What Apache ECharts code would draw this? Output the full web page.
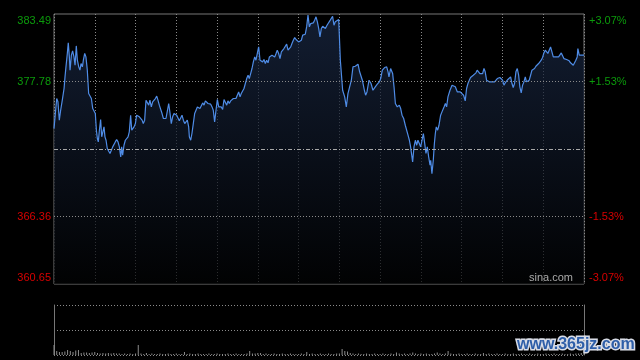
<!DOCTYPE html>
<html>
<head>
<meta charset="utf-8">
<script src="https://cdn.jsdelivr.net/npm/echarts@6/dist/echarts.min.js"></script>
<style>html,body{margin:0;padding:0;background:#000;}#c{width:640px;height:360px;}</style>
</head>
<body>
<div id="c"></div>
<script>
// ---- data ----
const prevClose = 372.07;
const priceTicks = [360.65, 366.36, 377.78, 383.49];
const priceMin = 360.65;
const priceMax = 383.49;
const gridPrices = [366.36, 377.78];
// [minutes since open, price]
const intraday = [
[0,373.80],[2.0,376.34],[2.9,376.06],[3.9,374.51],[4.9,375.35],[6.1,376.20],[7.4,377.19],[8.1,378.17],[8.8,379.02],[9.8,380.15],[10.5,381.05],[11.3,379.86],[11.8,378.74],[12.8,380.01],[13.7,380.37],[14.7,379.86],[15.5,379.16],[16.4,380.79],[17.2,379.58],[18.2,379.02],[19.1,378.74],[19.9,379.30],[20.9,379.02],[21.6,379.58],[22.6,380.15],[23.5,379.86],[24.5,378.74],[25.5,376.76],[26.5,376.62],[27.5,376.34],[28.5,375.49],[29.4,375.41],[30.4,375.07],[31.2,373.66],[31.9,372.96],[32.6,372.67],[33.4,373.66],[34.3,374.56],[35.1,373.10],[35.8,372.96],[36.8,373.94],[37.5,373.10],[38.3,372.81],[39.2,372.11],[40.2,371.97],[41.2,371.69],[42.2,371.55],[43.2,372.25],[44.2,372.39],[45.1,372.67],[46.1,372.87],[47.1,372.67],[48.1,372.25],[49.1,371.40],[49.8,372.25],[50.5,371.55],[51.5,372.39],[52.5,372.81],[53.5,372.87],[54.5,373.10],[55.4,373.52],[56.4,374.93],[57.2,373.66],[57.9,373.80],[58.9,373.94],[59.9,374.22],[60.8,374.93],[61.8,374.79],[62.8,374.79],[63.8,374.73],[64.8,374.51],[65.7,374.22],[66.7,374.51],[67.7,376.20],[68.7,376.06],[69.7,375.78],[70.6,376.20],[71.6,375.63],[72.6,376.06],[73.6,376.06],[74.6,376.34],[75.6,376.54],[76.5,376.20],[77.5,375.78],[78.5,375.92],[79.5,375.07],[80.5,374.65],[81.4,374.56],[82.4,374.65],[83.4,374.51],[84.4,375.92],[85.4,375.07],[86.3,374.22],[87.3,374.79],[88.3,375.07],[89.3,375.21],[90.3,374.93],[91.3,374.79],[92.2,374.45],[93.2,374.51],[94.2,374.93],[95.2,374.51],[96.2,374.22],[97.1,374.37],[98.1,374.51],[99.1,373.94],[99.6,373.10],
[100.6,372.81],[101.5,373.38],[102.5,374.22],[103.5,375.07],[104.5,375.35],[105.5,375.63],[106.4,375.49],[107.4,375.49],[108.4,375.63],[109.4,375.97],[110.4,375.78],[111.4,376.14],[112.3,376.06],[113.3,375.92],[114.3,375.97],[115.3,375.86],[116.3,375.63],[117.2,375.35],[118.2,374.37],[119.2,375.35],[120.2,376.26],[121.2,375.63],[122.1,375.49],[123.1,375.63],[124.1,375.41],[125.1,376.26],[126.1,376.14],[127.1,375.78],[128.0,376.14],[129.0,375.92],[130.0,376.14],[131.0,376.20],[132.0,376.34],[132.9,376.48],[133.9,376.34],[134.9,376.34],[135.9,376.90],[136.9,376.48],[137.8,376.76],[138.8,376.82],[139.8,377.19],[140.8,377.61],[141.8,378.03],[142.8,378.31],[143.7,378.03],[144.7,378.45],[145.7,378.88],[146.7,379.44],[147.7,379.86],[148.6,379.58],[149.6,379.72],[150.6,380.71],[151.6,379.58],[152.6,379.72],[153.5,379.44],[154.5,379.64],[155.5,379.30],[156.5,379.58],[157.5,379.36],[158.5,379.86],[159.4,379.72],[160.4,380.01],[161.4,380.15],[162.4,379.86],[163.4,380.15],[164.3,380.43],[165.3,380.15],[166.3,379.72],[167.3,380.29],[168.3,380.43],[169.2,380.57],[170.2,380.43],[171.2,380.94],[172.2,380.43],[173.2,380.29],[174.2,380.71],[175.1,381.00],[176.1,381.27],[177.1,381.50],[178.1,381.33],[179.1,381.27],[180.0,381.13],[181.0,381.00],[182.0,381.27],[183.0,381.70],[184.0,381.84],[184.9,381.78],[185.9,382.40],[186.9,383.39],[187.9,382.40],[188.9,382.68],[189.9,382.83],[190.8,382.74],[191.8,382.97],[192.8,383.25],[193.8,382.83],[194.8,382.26],[195.7,381.56],[196.7,382.26],[197.7,382.46],
[198.4,382.40],[199.7,382.26],[200.9,382.54],[202.1,382.68],[203.3,382.97],[204.1,383.11],[205.0,383.30],[206.0,382.54],[207.0,382.83],[208.2,382.97],[209.5,383.02],[210.7,379.58],[212.4,377.04],[213.9,376.48],[215.1,375.63],[216.3,376.76],[217.3,376.90],[218.8,377.89],[220.0,379.02],[221.7,379.07],[222.7,379.02],[223.7,379.24],[224.9,378.60],[225.9,378.74],[226.9,377.89],[228.4,377.04],[229.3,376.62],[230.3,376.90],[231.8,377.89],[233.3,377.61],[234.7,377.04],[236.4,377.33],[237.9,377.55],[239.4,377.75],[240.4,378.03],[241.6,378.74],[243.3,378.96],[244.8,379.02],[245.8,378.60],[246.5,378.17],[247.7,378.88],[249.2,378.45],[250.2,377.33],[251.2,375.92],[252.6,375.63],[254.1,375.78],[255.1,375.49],[256.1,374.93],[257.3,374.65],[258.5,374.08],[259.5,373.94],[260.5,373.24],[261.5,372.81],[262.4,372.25],[263.9,370.98],[264.9,372.25],[265.9,372.81],[266.9,372.39],[267.8,372.81],[268.8,372.53],[269.8,372.25],[270.8,372.81],[271.8,373.38],[272.8,372.53],[273.7,371.69],[274.7,372.25],[275.7,371.40],[276.7,370.70],[277.2,371.12],[278.1,369.99],[279.1,371.12],[279.9,372.53],[280.6,373.38],[281.3,373.94],[282.3,373.66],[283.3,374.08],[284.5,374.93],[285.5,375.21],[287.0,375.63],[288.0,375.92],[288.9,375.63],[289.9,376.48],[291.4,377.04],[292.9,377.47],[294.3,377.47],[295.3,377.33],[296.8,376.90],
[297.7,377.04],[298.9,376.90],[300.2,376.76],[301.4,376.62],[302.6,376.14],[303.6,377.19],[304.6,377.61],[305.6,377.89],[306.5,378.12],[307.5,378.23],[308.5,378.31],[309.5,378.40],[310.5,378.51],[311.4,378.74],[312.4,378.79],[313.4,378.45],[314.4,378.31],[315.4,378.45],[316.4,378.88],[316.8,379.02],[317.3,378.60],[318.3,377.89],[319.3,378.03],[320.3,377.75],[321.3,377.89],[322.2,377.75],[323.2,377.89],[324.2,377.75],[325.2,377.89],[326.2,378.03],[327.1,378.03],[328.1,378.12],[329.1,378.03],[330.1,377.89],[331.1,377.47],[332.0,377.66],[333.0,377.75],[334.0,377.95],[335.0,378.03],[336.0,378.17],[337.0,377.61],[337.9,377.27],[338.9,377.61],[339.9,378.60],[340.9,378.88],[341.9,378.31],[342.8,377.33],[343.8,376.82],[344.8,377.47],[345.8,377.75],[346.8,378.17],[347.7,377.75],[348.7,377.61],[349.7,377.89],[350.7,378.31],[351.7,378.74],[352.7,378.68],[353.6,378.88],[354.6,379.07],[355.6,379.16],[356.6,379.30],[357.6,379.36],[358.5,379.58],[359.5,379.81],[360.5,380.20],[361.5,380.43],[362.5,380.29],[363.4,380.15],[364.4,380.43],[365.4,380.71],[366.4,380.29],[367.4,379.86],[368.4,379.81],[369.3,379.86],[370.3,379.72],[371.3,379.86],[372.3,379.92],[373.3,380.20],[374.2,380.09],[375.2,379.72],[376.2,379.81],[377.2,379.64],[378.2,379.64],[379.1,379.53],[380.1,379.36],[381.1,379.30],[382.1,379.16],[383.1,379.02],[384.0,379.58],[385.0,379.86],[385.5,380.57],[386.5,380.01],[387.5,380.09],[388.5,380.01],[390,380.01]
];
// volume, one value every 2 minutes from the open (arbitrary units)
const volumes = [
10,4,3,3,3.5,5,4,3,4.5,5,2,2.5,2.5,2,2.5,3,
2,1.5,2,1.5,2,1.5,2,1.5,1.5,1,1.5,1,1.5,1,1.5,
10,
1.5,1,2,1,1.5,1,1,1.5,1,1,1.5,1,1,1.5,1,1,
3,
1,1.5,1,1,1.5,1,1,1,1.5,1,1,1.5,1,1,1,1.5,1,1,1.5,1,1,1,1.5,
4,
1.5,1.5,2,2,1,1.5,1,1,1.5,1,1,1.5,1,1,1.5,1,1,1,1.5,1,
3,
1,1.5,1,1,1.5,1,1,1.5,1,1,1.5,1.5,
6,4,3.5,
2,1.5,1,1.5,1,1,1.5,1,1,1.5,1,1,1.5,1,1,1.5,1,
2.5,
1.5,1,1.5,1,1.5,
2.5,
1.5,1,1.5,1,1.5,1,1,1.5,
2.5,
1.5,1,1.5,
4,
1.5,1,1,1.5,1,1,1.5,1,1,1.5,1,1,
2,
1,1.5,1,1,1.5,1,1,1.5,1,1,1.5,1,1,1.5,1,1,1.5,1,1,1.5,1,1,1.5,1,1,1.5,1,1,1.5,1,1,1.5,1,1.5,1.5,2,2
];
const volStep = 2;

// ---- chart ----
const FONT = 'Arial, "Liberation Sans", sans-serif';
const GREEN = '#0b9a0b';
const RED = '#d80000';
const eq = (a, b) => Math.abs(a - b) < 1e-6;
function keyFor(v) {
  const up = v > prevClose;
  const t = eq(v, priceMax) ? 'T' : (eq(v, priceMin) ? 'B' : '');
  return (up ? 'g' : 'r') + t;
}
const rich = {
  g: {color: GREEN, fontSize: 11, fontFamily: FONT},
  gT: {color: GREEN, fontSize: 11, fontFamily: FONT, padding: [14, 0, 0, 0]},
  r: {color: RED, fontSize: 11, fontFamily: FONT},
  rB: {color: RED, fontSize: 11, fontFamily: FONT, padding: [0, 0, 13, 0]}
};
function pct(v) {
  const p = (v - prevClose) / prevClose * 100;
  return (p > 0 ? '+' : '') + p.toFixed(2) + '%';
}
const dotted = {color: '#8a8a8a', type: [1, 2], width: 1};

const chart = echarts.init(document.getElementById('c'), null, {renderer: 'canvas'});
chart.setOption({
  backgroundColor: '#000',
  animation: false,
  grid: [
    {left: 54, right: 56, top: 14, height: 270, show: true, borderColor: '#777', borderWidth: 1, backgroundColor: 'transparent'},
    {left: 54, right: 56, top: 305, height: 50}
  ],
  xAxis: [
    {gridIndex: 0, type: 'value', min: 0, max: 390, interval: 30, z: 3,
     axisLine: {show: false}, axisTick: {show: false}, axisLabel: {show: false},
     splitLine: {show: true, lineStyle: dotted}},
    {gridIndex: 1, type: 'value', min: 0, max: 390,
     axisLine: {show: false}, axisTick: {show: false}, axisLabel: {show: false}, splitLine: {show: false}}
  ],
  yAxis: [
    {gridIndex: 0, type: 'value', min: priceMin, max: priceMax, position: 'left',
     axisLine: {show: false}, axisTick: {show: false}, splitLine: {show: false},
     axisLabel: {customValues: priceTicks, margin: 3, rich: rich,
       formatter: v => '{' + keyFor(v) + '|' + v.toFixed(2) + '}'}},
    {gridIndex: 0, type: 'value', min: priceMin, max: priceMax, position: 'right',
     axisLine: {show: false}, axisTick: {show: false}, splitLine: {show: false},
     axisLabel: {customValues: priceTicks, margin: 5, rich: rich,
       formatter: v => '{' + keyFor(v) + '|' + pct(v) + '}'}},
    {gridIndex: 1, type: 'value', min: 0, max: 50, interval: 25, position: 'left',
     axisLine: {show: true, onZero: false, lineStyle: {color: '#777'}}, axisTick: {show: false}, axisLabel: {show: false},
     splitLine: {show: true, lineStyle: dotted}},
    {gridIndex: 1, type: 'value', min: 0, max: 50, position: 'right',
     axisLine: {show: true, onZero: false, lineStyle: {color: '#777'}}, axisTick: {show: false}, axisLabel: {show: false},
     splitLine: {show: false}}
  ],
  series: [
    {type: 'line', xAxisIndex: 0, yAxisIndex: 0, data: intraday, showSymbol: false, symbol: 'none', z: 4,
     lineStyle: {color: '#4f8ce6', width: 1.2},
     areaStyle: {origin: 'start', color: {type: 'linear', x: 0, y: 0, x2: 0, y2: 1,
       colorStops: [{offset: 0, color: '#1a2946'}, {offset: 1, color: '#020304'}]}},
     markLine: {silent: true, symbol: ['none', 'none'], label: {show: false},
       data: gridPrices.map(p => ({yAxis: p, lineStyle: dotted}))
         .concat([{yAxis: prevClose, lineStyle: {color: '#a8a8a8', type: [4, 2, 1, 2], width: 1}}])}},
    {type: 'bar', xAxisIndex: 1, yAxisIndex: 2, barWidth: 1,
     data: volumes.map((v, i) => [i * volStep, v]),
     itemStyle: {color: '#8c8c8c'}}
  ],
  graphic: [
    {type: 'text', x: 573, y: 278, z: 10,
     style: {text: 'sina.com', fill: '#aaaaaa', font: '11px ' + FONT, textAlign: 'right', textVerticalAlign: 'middle', align: 'right', verticalAlign: 'middle'}},
    {type: 'text', x: 517, y: 345, z: 10,
     style: {text: 'www.365jz.com', fill: '#2e5ea8', stroke: '#d8dce6', lineWidth: 3, strokeFirst: true,
       font: 'bold 16px ' + FONT, textAlign: 'left', textVerticalAlign: 'middle', align: 'left', verticalAlign: 'middle'}}
  ]
});
</script>
</body>
</html>
